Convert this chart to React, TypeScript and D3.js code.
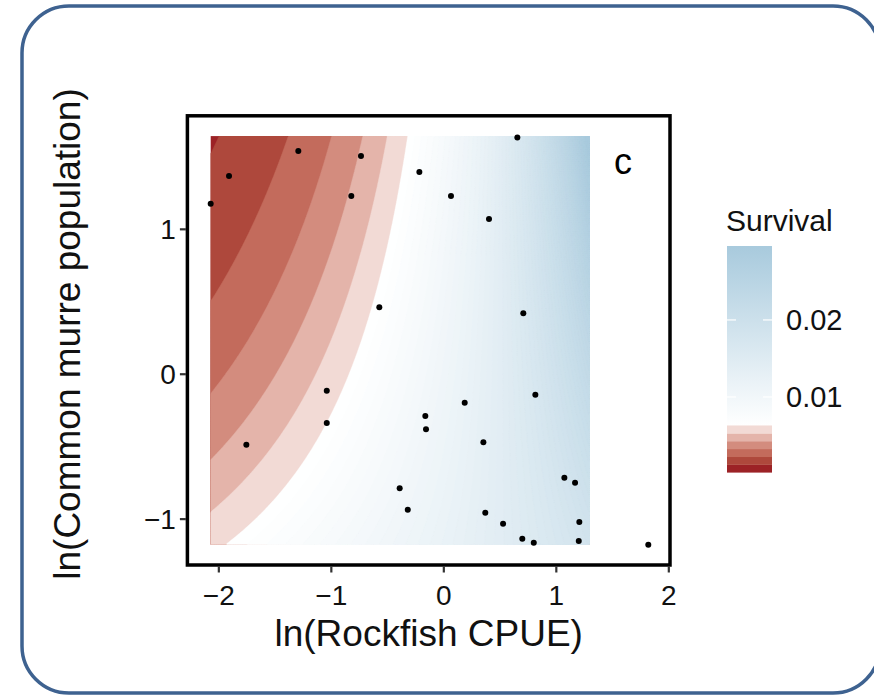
import React, { useEffect, useRef } from "react";
import * as d3 from "d3";

// observed years: ln(rockfish CPUE) vs ln(common murre population)
const rockfishCPUE = [
  -1.289, -0.732, -1.905, -2.068, -0.818, -0.213, 0.068, -0.569, -1.036, -1.036,
  -1.751, -0.16, -0.154, 0.19, -0.388, -0.316, 0.658, 0.406, 0.711, 0.818,
  0.356, 1.076, 1.171, 0.373, 0.531, 1.209, 0.702, 0.804, 1.204, 1.822,
];
const murrePopulation = [
  1.537, 1.502, 1.364, 1.173, 1.226, 1.392, 1.226, 0.458, -0.117, -0.34,
  -0.49, -0.292, -0.384, -0.2, -0.79, -0.939, 1.631, 1.068, 0.417, -0.145,
  -0.473, -0.718, -0.752, -0.959, -1.035, -1.023, -1.139, -1.166, -1.155, -1.18,
];

// fitted survival surface: log(S) = b0 + b1*x + b2*y + b3*x*y
const surfaceCoef = { intercept: -4.565, cpue: 0.6, murre: -0.118, interaction: 0.228 };
const surfaceX = [-2.07, 1.3];
const surfaceY = [-1.18, 1.64];

const xTicks = [-2, -1, 0, 1, 2];
const yTicks = [-1, 0, 1];
const legendTicks = [0.01, 0.02];

// low survival bins (red) and continuous high survival (white -> blue)
const redBreaks = [0.00022, 0.00123, 0.00224, 0.00326, 0.00427, 0.00528, 0.0063];
const redColors = ["#9C2226", "#AE483C", "#C36B5C", "#D38C7E", "#E4B4AA", "#F2DAD5"];
const survivalMax = 0.0296;
const blueColor = "#A8CADD";

const W = 874;
const H = 695;
const FONT = "'Liberation Sans', Arial, Helvetica, sans-serif";

export default function App() {
  const svgRef = useRef<SVGSVGElement>(null);

  useEffect(() => {
    const svg = d3.select(svgRef.current);
    svg.selectAll("*").remove();

    // outer rounded frame
    svg
      .append("rect")
      .attr("x", 22)
      .attr("y", 6)
      .attr("width", 858)
      .attr("height", 687)
      .attr("rx", 47)
      .attr("fill", "#fff")
      .attr("stroke", "#3E6290")
      .attr("stroke-width", 3.5);

    const x = d3.scaleLinear().domain([-2.275, 2.015]).range([187.4, 670]);
    const y = d3.scaleLinear().domain([-1.32, 1.78]).range([565, 115.8]);

    // surface grid
    const nx = 220;
    const ny = 200;
    const values: number[] = new Array(nx * ny);
    for (let j = 0; j < ny; j++) {
      const yv = surfaceY[1] - ((j + 0.5) * (surfaceY[1] - surfaceY[0])) / ny;
      for (let i = 0; i < nx; i++) {
        const xv = surfaceX[0] + ((i + 0.5) * (surfaceX[1] - surfaceX[0])) / nx;
        values[i + j * nx] = Math.exp(
          surfaceCoef.intercept +
            surfaceCoef.cpue * xv +
            surfaceCoef.murre * yv +
            surfaceCoef.interaction * xv * yv
        );
      }
    }

    const whiteAt = redBreaks[redBreaks.length - 1];
    const blueStep = 0.0004;
    const blueLevels = d3.range(whiteAt, survivalMax, blueStep);
    const thresholds = [...redBreaks.slice(1, -1), ...blueLevels];
    const blueInterp = d3.interpolateRgb("#ffffff", blueColor);

    const fillFor = (t: number) => {
      if (t < whiteAt - 1e-9) {
        const k = redBreaks.findIndex((b) => Math.abs(b - t) < 1e-9);
        return redColors[k];
      }
      const mid = Math.min(t + blueStep / 2, survivalMax);
      return blueInterp((mid - whiteAt) / (survivalMax - whiteAt));
    };

    const X0 = x(surfaceX[0]);
    const X1 = x(surfaceX[1]);
    const Y0 = y(surfaceY[1]);
    const Y1 = y(surfaceY[0]);
    const sx = (X1 - X0) / nx;
    const sy = (Y1 - Y0) / ny;

    const proj = d3.geoTransform({
      point(px: number, py: number) {
        (this as any).stream.point(X0 + px * sx, Y0 + py * sy);
      },
    });
    const path = d3.geoPath(proj);

    svg
      .append("defs")
      .append("clipPath")
      .attr("id", "surf-clip")
      .append("rect")
      .attr("x", X0)
      .attr("y", Y0)
      .attr("width", X1 - X0)
      .attr("height", Y1 - Y0);

    const surf = svg.append("g").attr("clip-path", "url(#surf-clip)");
    surf
      .append("rect")
      .attr("x", X0)
      .attr("y", Y0)
      .attr("width", X1 - X0)
      .attr("height", Y1 - Y0)
      .attr("fill", redColors[0]);

    const contours = d3.contours().size([nx, ny]).thresholds(thresholds)(values);
    surf
      .selectAll("path")
      .data(contours)
      .enter()
      .append("path")
      .attr("d", (d: any) => path(d))
      .attr("fill", (d: any) => fillFor(d.value))
      .attr("stroke", (d: any) => fillFor(d.value))
      .attr("stroke-width", 0.4);

    // points
    svg
      .append("g")
      .selectAll("circle")
      .data(rockfishCPUE)
      .enter()
      .append("circle")
      .attr("cx", (d) => x(d))
      .attr("cy", (_, i) => y(murrePopulation[i]))
      .attr("r", 3)
      .attr("fill", "#000");

    // panel border
    svg
      .append("rect")
      .attr("x", x.range()[0])
      .attr("y", y.range()[1])
      .attr("width", x.range()[1] - x.range()[0])
      .attr("height", y.range()[0] - y.range()[1])
      .attr("fill", "none")
      .attr("stroke", "#000")
      .attr("stroke-width", 3.5);

    // panel tag
    svg
      .append("text")
      .attr("x", 623)
      .attr("y", 174)
      .attr("text-anchor", "middle")
      .attr("font-family", FONT)
      .attr("font-size", 36)
      .text("c");

    // x axis
    const xAxis = svg
      .append("g")
      .attr("transform", `translate(0,${y.range()[0] + 1.5})`)
      .call(
        d3
          .axisBottom(x)
          .tickValues(xTicks)
          .tickFormat(d3.format("d") as any)
          .tickSize(6)
          .tickSizeOuter(0)
      );
    xAxis.select(".domain").remove();
    xAxis.selectAll(".tick line").attr("stroke", "#333").attr("stroke-width", 2.2);
    xAxis
      .selectAll(".tick text")
      .attr("y", 38)
      .attr("dy", 0)
      .attr("fill", "#111")
      .attr("font-family", FONT)
      .attr("font-size", 28);

    // y axis
    const yAxis = svg
      .append("g")
      .attr("transform", `translate(${x.range()[0] - 1.5},0)`)
      .call(
        d3
          .axisLeft(y)
          .tickValues(yTicks)
          .tickFormat(d3.format("d") as any)
          .tickSize(6)
          .tickSizeOuter(0)
      );
    yAxis.select(".domain").remove();
    yAxis.selectAll(".tick line").attr("stroke", "#333").attr("stroke-width", 2.2);
    yAxis
      .selectAll(".tick text")
      .attr("x", -10)
      .attr("dy", "0.35em")
      .attr("fill", "#111")
      .attr("font-family", FONT)
      .attr("font-size", 28);

    // axis titles
    svg
      .append("text")
      .attr("x", (x.range()[0] + x.range()[1]) / 2)
      .attr("y", 646)
      .attr("text-anchor", "middle")
      .attr("font-family", FONT)
      .attr("font-size", 37)
      .attr("fill", "#111")
      .text("ln(Rockfish CPUE)");

    svg
      .append("text")
      .attr("transform", `translate(80,334) rotate(-90)`)
      .attr("text-anchor", "middle")
      .attr("font-family", FONT)
      .attr("font-size", 37)
      .attr("fill", "#111")
      .text("ln(Common murre population)");

    // legend
    const legY = d3.scaleLinear().domain([survivalMax, redBreaks[0]]).range([246, 472.3]);
    const legX0 = 727;
    const legW = 45;
    const grad = svg
      .select("defs")
      .append("linearGradient")
      .attr("id", "surv-grad")
      .attr("x1", 0)
      .attr("y1", 0)
      .attr("x2", 0)
      .attr("y2", 1);
    grad.append("stop").attr("offset", 0).attr("stop-color", blueColor);
    grad.append("stop").attr("offset", 1).attr("stop-color", "#ffffff");

    const leg = svg.append("g");
    leg
      .append("text")
      .attr("x", 726)
      .attr("y", 231)
      .attr("font-family", FONT)
      .attr("font-size", 30)
      .attr("fill", "#111")
      .text("Survival");

    leg
      .append("rect")
      .attr("x", legX0)
      .attr("y", legY(survivalMax))
      .attr("width", legW)
      .attr("height", legY(whiteAt) - legY(survivalMax))
      .attr("fill", "url(#surv-grad)");

    leg
      .selectAll("rect.band")
      .data(redColors)
      .enter()
      .append("rect")
      .attr("class", "band")
      .attr("x", legX0)
      .attr("y", (_, i) => legY(redBreaks[i + 1]))
      .attr("width", legW)
      .attr("height", (_, i) => legY(redBreaks[i]) - legY(redBreaks[i + 1]) + 0.3)
      .attr("fill", (d) => d);

    const lt = leg
      .selectAll("g.lt")
      .data(legendTicks)
      .enter()
      .append("g")
      .attr("class", "lt")
      .attr("transform", (d) => `translate(0,${legY(d)})`);
    lt.append("line")
      .attr("x1", legX0)
      .attr("x2", legX0 + 9)
      .attr("stroke", "#fff")
      .attr("stroke-width", 1.2);
    lt.append("line")
      .attr("x1", legX0 + legW - 9)
      .attr("x2", legX0 + legW)
      .attr("stroke", "#fff")
      .attr("stroke-width", 1.2);
    lt.append("text")
      .attr("x", 786)
      .attr("dy", "0.36em")
      .attr("font-family", FONT)
      .attr("font-size", 29)
      .attr("fill", "#111")
      .text((d) => d3.format(".2f")(d));
  }, []);

  return (
    <svg
      ref={svgRef}
      width={W}
      height={H}
      style={{ position: "absolute", left: 0, top: 0, background: "#fff" }}
    />
  );
}
